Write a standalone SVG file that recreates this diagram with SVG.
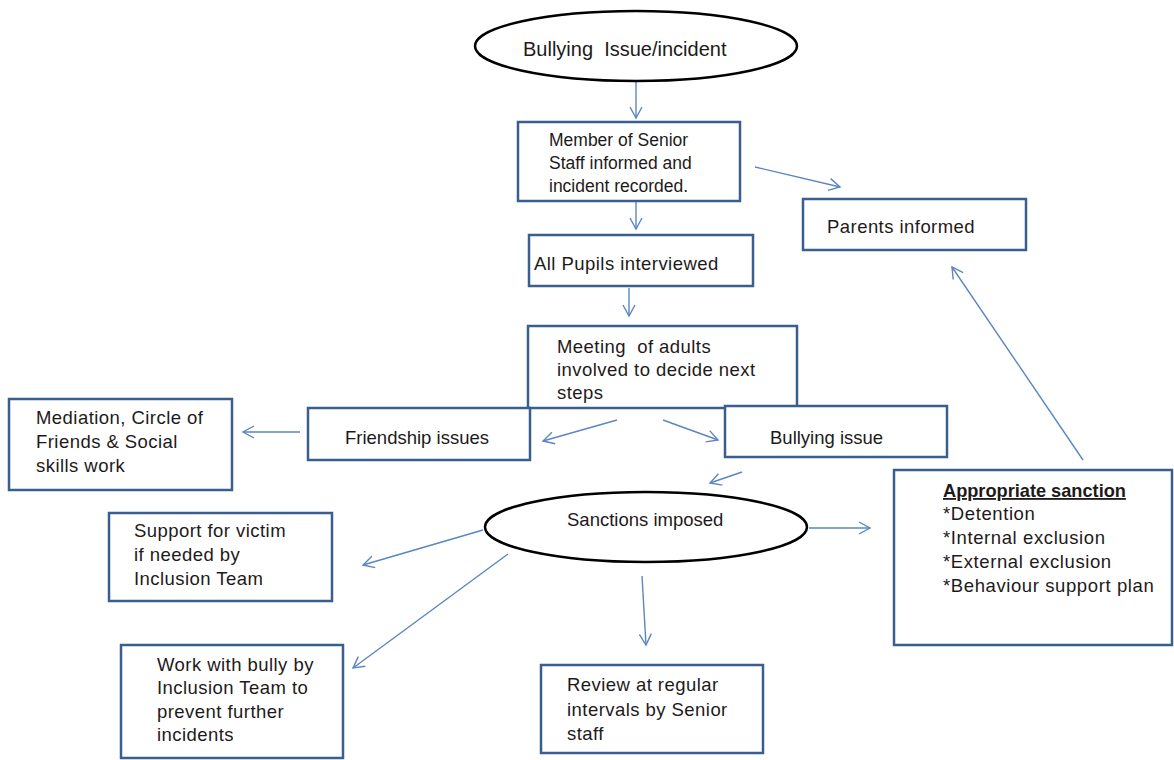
<svg xmlns="http://www.w3.org/2000/svg" width="1174" height="760" viewBox="0 0 1174 760">
<style>
.box{fill:#fff;stroke:#3a5f8f;stroke-width:2.5}
.ell{fill:#fff;stroke:#000;stroke-width:2.5}
.t{font-family:"Liberation Sans",Arial,sans-serif;font-size:18.5px;fill:#1e1a1a;white-space:pre;letter-spacing:0.45px}
.s{font-size:17.5px;letter-spacing:0}
.m{letter-spacing:0}
.w{letter-spacing:0.6px}
.big{font-size:20px;letter-spacing:0}
.b{font-weight:bold;text-decoration:underline;font-size:18.2px;letter-spacing:0}
.c{fill:none;stroke:#5b86c0;stroke-width:1.4}
</style>
<defs>
<marker id="ah" markerUnits="userSpaceOnUse" markerWidth="16" markerHeight="16" refX="12" refY="7" orient="auto">
<path d="M1,1 L12,7 L1,13" fill="none" stroke="#5b86c0" stroke-width="1.4"/>
</marker>
</defs>
<rect width="1174" height="760" fill="#fff"/>

<g id="connectors">
<line class="c" x1="636" y1="81" x2="636" y2="118" marker-end="url(#ah)"/>
<line class="c" x1="636" y1="202" x2="636" y2="229" marker-end="url(#ah)"/>
<line class="c" x1="629" y1="288" x2="629" y2="316" marker-end="url(#ah)"/>
<line class="c" x1="755" y1="167" x2="840" y2="187" marker-end="url(#ah)"/>
<line class="c" x1="300" y1="432" x2="243" y2="432" marker-end="url(#ah)"/>
<line class="c" x1="617" y1="420" x2="543" y2="441" marker-end="url(#ah)"/>
<line class="c" x1="663" y1="420" x2="718" y2="440" marker-end="url(#ah)"/>
<line class="c" x1="742" y1="472" x2="710" y2="483" marker-end="url(#ah)"/>
<line class="c" x1="809" y1="528" x2="870" y2="528" marker-end="url(#ah)"/>
<line class="c" x1="642" y1="576" x2="646" y2="645" marker-end="url(#ah)"/>
<line class="c" x1="483" y1="530" x2="363" y2="565" marker-end="url(#ah)"/>
<line class="c" x1="508" y1="554" x2="353" y2="668" marker-end="url(#ah)"/>
<line class="c" x1="1083" y1="460" x2="952" y2="267" marker-end="url(#ah)"/>
</g>

<g id="n-start">
<ellipse class="ell" cx="636" cy="46" rx="161" ry="35"/>
<text class="t big" x="523" y="56">Bullying  Issue/incident</text>
</g>

<g id="n-senior">
<rect class="box" x="518" y="122" width="222" height="79"/>
<text class="t s" x="549" y="146">Member of Senior</text>
<text class="t s" x="549" y="169">Staff informed and</text>
<text class="t s" x="549" y="192">incident recorded.</text>
</g>

<g id="n-parents">
<rect class="box" x="803" y="199" width="223" height="51"/>
<text class="t" x="827" y="233">Parents informed</text>
</g>

<g id="n-pupils">
<rect class="box" x="529" y="235" width="224" height="51"/>
<text class="t" x="534" y="270">All Pupils interviewed</text>
</g>

<g id="n-meeting">
<rect class="box" x="528" y="326" width="269" height="82"/>
<text class="t" x="557" y="353">Meeting  of adults</text>
<text class="t" x="557" y="376">involved to decide next</text>
<text class="t" x="557" y="399">steps</text>
</g>

<g id="n-friendship">
<rect class="box" x="308" y="408" width="222" height="52"/>
<text class="t m" x="345" y="444">Friendship issues</text>
</g>

<g id="n-mediation">
<rect class="box" x="9" y="399" width="223" height="91"/>
<text class="t" x="36" y="424">Mediation, Circle of</text>
<text class="t" x="36" y="448">Friends &amp; Social</text>
<text class="t" x="36" y="472">skills work</text>
</g>

<g id="n-bullying">
<rect class="box" x="725" y="406" width="222" height="51"/>
<text class="t m" x="770" y="444">Bullying issue</text>
</g>

<g id="n-sanctions">
<ellipse class="ell" cx="646" cy="527" rx="161" ry="35"/>
<text class="t m" x="567" y="526">Sanctions imposed</text>
</g>

<g id="n-appropriate">
<rect class="box" x="894" y="470" width="278" height="175"/>
<text class="t b" x="943" y="497">Appropriate sanction</text>
<text class="t w" x="943" y="520">*Detention</text>
<text class="t w" x="943" y="544">*Internal exclusion</text>
<text class="t w" x="943" y="568">*External exclusion</text>
<text class="t w" x="943" y="592">*Behaviour support plan</text>
</g>

<g id="n-victim">
<rect class="box" x="109" y="513" width="223" height="88"/>
<text class="t" x="134" y="537">Support for victim</text>
<text class="t" x="134" y="561">if needed by</text>
<text class="t" x="134" y="585">Inclusion Team</text>
</g>

<g id="n-bully">
<rect class="box" x="121" y="645" width="222" height="113"/>
<text class="t" x="157" y="671">Work with bully by</text>
<text class="t" x="157" y="694">Inclusion Team to</text>
<text class="t" x="157" y="718">prevent further</text>
<text class="t" x="157" y="741">incidents</text>
</g>

<g id="n-review">
<rect class="box" x="541" y="665" width="222" height="88"/>
<text class="t" x="567" y="691">Review at regular</text>
<text class="t" x="567" y="716">intervals by Senior</text>
<text class="t" x="567" y="740">staff</text>
</g>
</svg>
